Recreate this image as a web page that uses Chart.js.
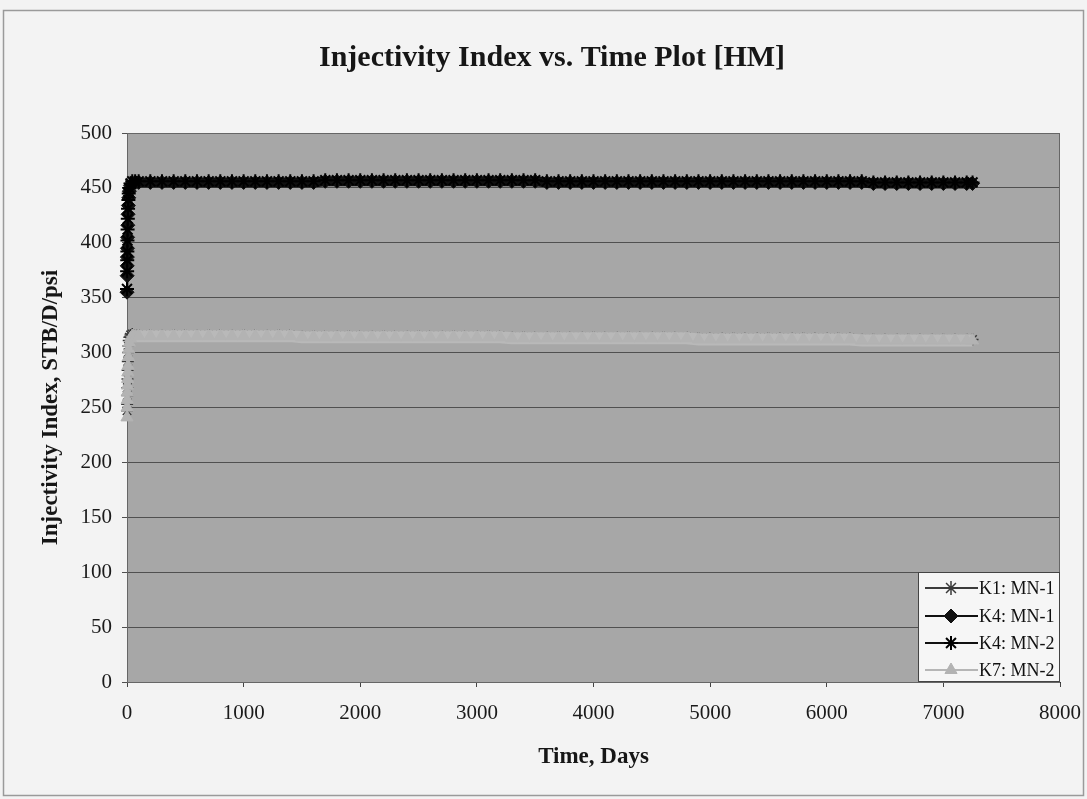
<!DOCTYPE html>
<html>
<head>
<meta charset="utf-8">
<title>Injectivity Index vs. Time Plot [HM]</title>
<script src="https://cdn.jsdelivr.net/npm/chart.js@4.4.0/dist/chart.umd.min.js"></script>
<style>
  html, body { margin: 0; padding: 0; background: #f3f3f3; }
  #wrap { width: 1087px; height: 799px; }
</style>
</head>
<body>
<div id="wrap"><canvas id="injChart" width="1087" height="799"></canvas></div>
<script>
// time, days (shared by all four wells)
const days = [
  0, 1, 2, 3, 4, 5, 7, 9, 12, 15, 20, 30, 45, 70,
  100, 200, 300, 400, 500, 600, 700, 800, 900, 1000,
  1100, 1200, 1300, 1400, 1500, 1600, 1700, 1800, 1900, 2000,
  2100, 2200, 2300, 2400, 2500, 2600, 2700, 2800, 2900, 3000,
  3100, 3200, 3300, 3400, 3500, 3600, 3700, 3800, 3900, 4000,
  4100, 4200, 4300, 4400, 4500, 4600, 4700, 4800, 4900, 5000,
  5100, 5200, 5300, 5400, 5500, 5600, 5700, 5800, 5900, 6000,
  6100, 6200, 6300, 6400, 6500, 6600, 6700, 6800, 6900, 7000,
  7100, 7200, 7250
];
// index in days where the early build-up ends
const rampEnd = 12;

// injectivity index, STB/D/psi
const k1mn1 = [
  247, 253, 261, 268, 276, 284, 292, 300, 306, 311, 314, 316, 317, 316,
  316, 316, 316, 316, 316, 316, 316, 316, 316, 316,
  316, 316, 316, 316, 315, 315, 315, 315, 315, 315,
  315, 315, 315, 315, 315, 315, 315, 315, 315, 315,
  315, 315, 314, 314, 314, 314, 314, 314, 314, 314,
  314, 314, 314, 314, 314, 314, 314, 314, 313, 313,
  313, 313, 313, 313, 313, 313, 313, 313, 313, 313,
  313, 313, 312, 312, 312, 312, 312, 312, 312, 312,
  312, 312, 312
];
const k4mn1 = [
  355, 370, 379, 387, 395, 405, 416, 426, 434, 441, 447, 452, 454, 455,
  455, 455, 455, 455, 455, 455, 455, 455, 455, 455,
  455, 455, 455, 455, 455, 455, 456, 456, 456, 456,
  456, 456, 456, 456, 456, 456, 456, 456, 456, 456,
  456, 456, 456, 456, 456, 455, 455, 455, 455, 455,
  455, 455, 455, 455, 455, 455, 455, 455, 455, 455,
  455, 455, 455, 455, 455, 455, 455, 455, 455, 455,
  455, 455, 455, 454, 454, 454, 454, 454, 454, 454,
  454, 454, 454
];
const k4mn2 = [
  358, 374, 384, 392, 402, 412, 422, 431, 439, 445, 450, 454, 456, 456,
  456, 456, 456, 456, 456, 456, 456, 456, 456, 456,
  456, 456, 456, 456, 456, 456, 457, 457, 457, 457,
  457, 457, 457, 457, 457, 457, 457, 457, 457, 457,
  457, 457, 457, 457, 457, 456, 456, 456, 456, 456,
  456, 456, 456, 456, 456, 456, 456, 456, 456, 456,
  456, 456, 456, 456, 456, 456, 456, 456, 456, 456,
  456, 456, 456, 455, 455, 455, 455, 455, 455, 455,
  455, 455, 455
];
const k7mn2 = [
  241, 250, 257, 264, 270, 276, 282, 288, 296, 303, 309, 313, 315, 315,
  315, 315, 315, 315, 315, 315, 315, 315, 315, 315,
  315, 315, 315, 315, 314, 314, 314, 314, 314, 314,
  314, 314, 314, 314, 314, 314, 314, 314, 314, 314,
  314, 314, 313, 313, 313, 313, 313, 313, 313, 313,
  313, 313, 313, 313, 313, 313, 313, 313, 312, 312,
  312, 312, 312, 312, 312, 312, 312, 312, 312, 312,
  312, 312, 311, 311, 311, 311, 311, 311, 311, 311,
  311, 311, 311
];

const seriesNames = ['K1: MN-1', 'K4: MN-1', 'K4: MN-2', 'K7: MN-2'];
const yTicks = [0, 50, 100, 150, 200, 250, 300, 350, 400, 450, 500];
const xTicks = [0, 1000, 2000, 3000, 4000, 5000, 6000, 7000, 8000];
const chartTitle = 'Injectivity Index vs. Time Plot [HM]';

const serif = "'Liberation Serif', 'Times New Roman', serif";

function toPoints(vals) {
  return days.map((d, i) => ({ x: d, y: vals[i] }));
}

// thin line during build-up, heavy band (dense markers in the original) after
function bandWidth(thin, thick) {
  return c => (c.p0DataIndex < rampEnd ? thin : thick);
}

// page background + frame, gray plot area, title
const backdrop = {
  id: 'backdrop',
  beforeDraw(chart) {
    const { ctx, chartArea: a } = chart;
    ctx.save();
    ctx.fillStyle = '#f3f3f3';
    ctx.fillRect(0, 0, chart.width, chart.height);
    ctx.strokeStyle = '#9a9a9a';
    ctx.lineWidth = 1.5;
    ctx.strokeRect(3.5, 10.5, chart.width - 7, chart.height - 14);
    ctx.fillStyle = '#a7a7a7';
    ctx.fillRect(a.left, a.top, a.right - a.left, a.bottom - a.top);

    ctx.fillStyle = '#161616';
    ctx.font = 'bold 30px ' + serif;
    ctx.textAlign = 'center';
    ctx.textBaseline = 'middle';
    ctx.fillText(chartTitle, 552, 58);
    ctx.restore();
  },
  beforeDatasetsDraw(chart) {
    const { ctx, chartArea: a } = chart;
    ctx.save();
    ctx.strokeStyle = '#666';
    ctx.lineWidth = 1;
    ctx.strokeRect(a.left + 0.5, a.top + 0.5, a.right - a.left - 1, a.bottom - a.top);
    ctx.restore();
  }
};

// Excel-style legend box inside the lower right corner of the plot
const cornerLegend = {
  id: 'cornerLegend',
  afterDraw(chart) {
    const { ctx, chartArea: a } = chart;
    const boxW = 142, boxH = 110;
    const x0 = a.right - boxW, y0 = a.bottom - boxH;
    ctx.save();
    ctx.fillStyle = '#f6f6f6';
    ctx.fillRect(x0, y0, boxW, boxH);
    ctx.strokeStyle = '#444';
    ctx.lineWidth = 1;
    ctx.strokeRect(x0 + 0.5, y0 + 0.5, boxW - 1, boxH - 1);

    const rows = [16, 44, 71, 98];
    const lineCol = ['#3c3c3c', '#111', '#111', '#b6b6b6'];
    seriesNames.forEach((name, i) => {
      const ds = chart.data.datasets.find(d => d.label === name);
      const y = y0 + rows[i];
      ctx.strokeStyle = lineCol[i];
      ctx.lineWidth = 2;
      ctx.beginPath();
      ctx.moveTo(x0 + 7, y);
      ctx.lineTo(x0 + 60, y);
      ctx.stroke();
      ctx.fillStyle = ds.pointBackgroundColor;
      ctx.strokeStyle = ds.pointBorderColor;
      ctx.lineWidth = ds.pointBorderWidth;
      Chart.helpers.drawPoint(ctx, {
        pointStyle: ds.pointStyle,
        radius: 7,
        borderWidth: ds.pointBorderWidth,
        rotation: 0
      }, x0 + 33, y);
      ctx.fillStyle = '#111';
      ctx.font = '18px ' + serif;
      ctx.textBaseline = 'middle';
      ctx.textAlign = 'left';
      ctx.fillText(name, x0 + 61, y + 1);
    });
    ctx.restore();
  }
};

const ctx = document.getElementById('injChart').getContext('2d');

new Chart(ctx, {
  type: 'line',
  data: {
    datasets: [
      {
        label: seriesNames[0], data: toPoints(k1mn1), order: 3, clip: false,
        borderColor: '#3c3c3c', borderWidth: 3,
        segment: { borderWidth: bandWidth(1.5, 3) },
        pointStyle: 'star', pointRadius: 6,
        pointBackgroundColor: '#3a3a3a', pointBorderColor: '#3a3a3a', pointBorderWidth: 1.5
      },
      {
        label: seriesNames[1], data: toPoints(k4mn1), order: 2, clip: false,
        borderColor: '#0e0e0e', borderWidth: 10,
        segment: { borderWidth: bandWidth(1.5, 10) },
        pointStyle: 'rectRot', pointRadius: 7,
        pointBackgroundColor: '#111', pointBorderColor: '#111', pointBorderWidth: 1
      },
      {
        label: seriesNames[2], data: toPoints(k4mn2), order: 1, clip: false,
        borderColor: '#111', borderWidth: 3,
        segment: { borderWidth: bandWidth(1.5, 3) },
        pointStyle: 'star', pointRadius: 7,
        pointBackgroundColor: '#000', pointBorderColor: '#000', pointBorderWidth: 2
      },
      {
        label: seriesNames[3], data: toPoints(k7mn2), order: 0, clip: false,
        borderColor: '#b9b9b9', borderWidth: 12,
        segment: { borderWidth: bandWidth(1.5, 12) },
        pointStyle: 'triangle', pointRadius: 7,
        pointBackgroundColor: '#b3b3b3', pointBorderColor: '#b3b3b3', pointBorderWidth: 1
      }
    ]
  },
  options: {
    responsive: false,
    animation: false,
    events: [],
    layout: { padding: { top: 133, right: 27, bottom: 0, left: 0 } },
    plugins: {
      legend: { display: false },
      tooltip: { enabled: false },
      title: { display: false }
    },
    scales: {
      x: {
        type: 'linear',
        min: 0, max: 8000,
        afterFit(s) { s.height = 117; s.paddingLeft = 0; s.paddingRight = 0; },
        afterBuildTicks(s) { s.ticks = xTicks.map(v => ({ value: v })); },
        border: { display: true, color: '#333', width: 1 },
        grid: { drawOnChartArea: false, drawTicks: true, tickLength: 5, color: '#444' },
        ticks: {
          color: '#1a1a1a', padding: 14, maxRotation: 0,
          font: { family: serif, size: 21 },
          callback: v => String(v)
        },
        title: {
          display: true, text: 'Time, Days', color: '#161616',
          font: { family: serif, size: 23, weight: 'bold' },
          padding: { top: 0, bottom: 28 }
        }
      },
      y: {
        type: 'linear',
        min: 0, max: 500,
        afterFit(s) { s.width = 127; },
        afterBuildTicks(s) { s.ticks = yTicks.map(v => ({ value: v })); },
        border: { display: true, color: '#333', width: 1 },
        grid: { color: '#505050', lineWidth: 1, drawTicks: true, tickLength: 5 },
        ticks: {
          color: '#1a1a1a', padding: 10,
          font: { family: serif, size: 21 },
          callback: v => String(v)
        },
        title: {
          display: true, text: 'Injectivity Index, STB/D/psi', color: '#161616',
          font: { family: serif, size: 23, weight: 'bold' },
          padding: { top: 37, bottom: 0 }
        }
      }
    }
  },
  plugins: [backdrop, cornerLegend]
});
</script>
</body>
</html>
